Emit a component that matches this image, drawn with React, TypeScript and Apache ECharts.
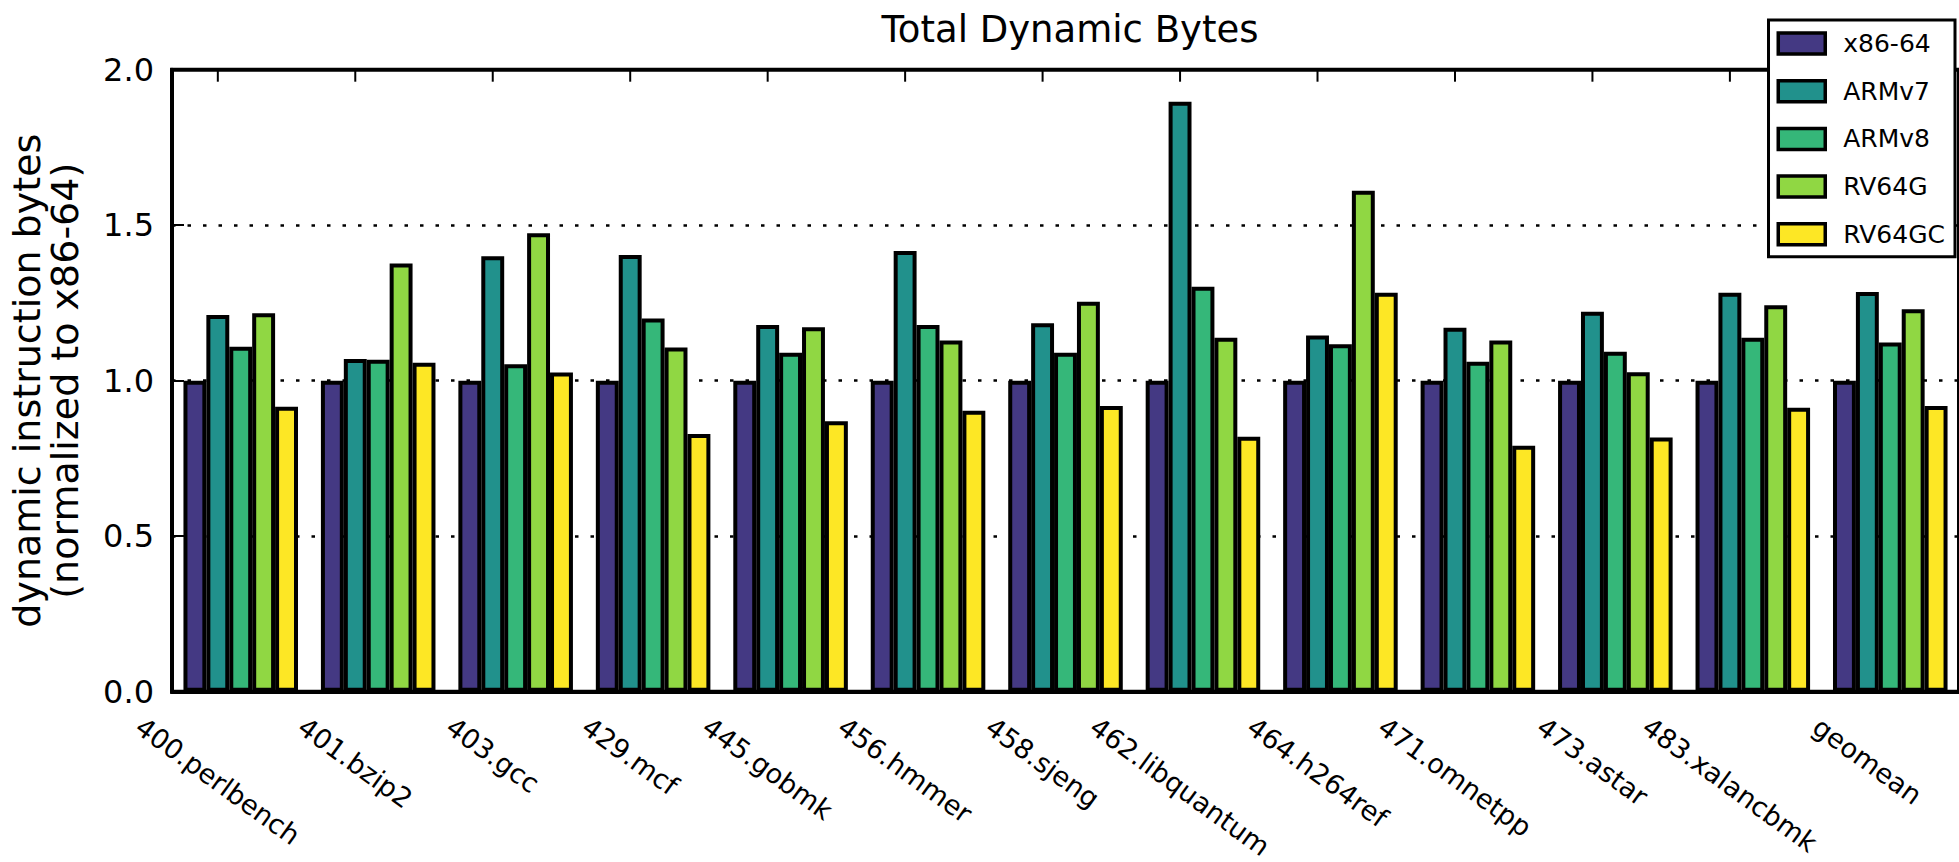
import React, { useEffect, useRef } from "react";
import * as echarts from "echarts";

const categories = [
  "400.perlbench",
  "401.bzip2",
  "403.gcc",
  "429.mcf",
  "445.gobmk",
  "456.hmmer",
  "458.sjeng",
  "462.libquantum",
  "464.h264ref",
  "471.omnetpp",
  "473.astar",
  "483.xalancbmk",
  "geomean",
];
const seriesNames = ["x86-64", "ARMv7", "ARMv8", "RV64G", "RV64GC"];
const x86_64 = [1, 1, 1, 1, 1, 1, 1, 1, 1, 1, 1, 1, 1];
const armv7 = [1.211, 1.07, 1.4, 1.404, 1.179, 1.417, 1.185, 1.897, 1.145, 1.17, 1.222, 1.283, 1.285];
const armv8 = [1.109, 1.067, 1.053, 1.2, 1.09, 1.179, 1.09, 1.302, 1.117, 1.061, 1.093, 1.138, 1.123];
const rv64g = [1.217, 1.377, 1.474, 1.107, 1.172, 1.129, 1.254, 1.138, 1.611, 1.129, 1.027, 1.243, 1.23];
const rv64gc = [0.916, 1.058, 1.026, 0.829, 0.87, 0.903, 0.919, 0.82, 1.283, 0.791, 0.817, 0.913, 0.919];
const yMin = 0;
const yMax = 2.0;
const yStep = 0.5;
const titleText = "Total Dynamic Bytes";
const yName = "dynamic instruction bytes\n(normalized to x86-64)";
const colors = ["#443983", "#21918c", "#35b779", "#90d743", "#fde725"];

const FONT = "'DejaVu Sans', 'Noto Sans', sans-serif";

export default function App() {
  const ref = useRef<HTMLDivElement>(null);
  useEffect(() => {
    if (!ref.current) return;
    const chart = echarts.init(ref.current, undefined, { renderer: "svg" });
    const values = [x86_64, armv7, armv8, rv64g, rv64gc];
    const option: any = {
      animation: false,
      backgroundColor: "#ffffff",
      textStyle: { fontFamily: FONT },
      title: {
        text: titleText,
        left: 1065,
        top: 6,
        textAlign: "center",
        textStyle: { fontFamily: FONT, fontSize: 37, fontWeight: "normal", color: "#000" },
      },
      legend: {
        orient: "vertical",
        right: 4,
        top: 20,
        padding: [11, 10, 10, 8],
        backgroundColor: "#ffffff",
        borderColor: "#000",
        borderWidth: 3,
        borderRadius: 0,
        itemWidth: 47,
        itemHeight: 21,
        itemGap: 22.7,
        icon: "rect",
        itemStyle: { borderColor: "#000", borderWidth: 3.5 },
        textStyle: { fontFamily: FONT, fontSize: 25, color: "#000", lineHeight: 21, padding: [0, 0, 0, 13] },
        data: seriesNames,
        z: 10,
      },
      grid: {
        left: 168.7,
        right: -15.4,
        top: 69.7,
        bottom: 170.3,
        show: true,
        borderColor: "#000",
        borderWidth: 4,
        backgroundColor: "transparent",
        containLabel: false,
      },
      xAxis: {
        type: "category",
        data: categories,
        boundaryGap: true,
        axisLine: { show: true, onZero: false, lineStyle: { color: "#000", width: 4 } },
        axisTick: { show: false },
        axisLabel: { show: false },
        splitLine: { show: false },
      },
      yAxis: {
        type: "value",
        min: yMin,
        max: yMax,
        interval: yStep,
        name: yName,
        nameLocation: "middle",
        nameRotate: 90,
        nameGap: 88,
        nameTextStyle: { fontFamily: FONT, fontSize: 38, lineHeight: 38, color: "#000", align: "center" },
        axisLine: { show: true, onZero: false, lineStyle: { color: "#000", width: 4 } },
        axisTick: { show: true, inside: true, length: 12, lineStyle: { color: "#000", width: 2 } },
        axisLabel: {
          margin: 18,
          fontFamily: FONT,
          fontSize: 32,
          color: "#000",
          formatter: (v: number) => v.toFixed(1),
        },
        splitLine: { show: true, lineStyle: { color: "#000", width: 2.5, type: [3.5, 12] } },
      },
      series: [
        ...seriesNames.map((name, k) => ({
          name,
          type: "bar",
          data: values[k],
          barWidth: "16.667%",
          barGap: "0%",
          itemStyle: { color: colors[k], borderColor: "#000", borderWidth: 4 },
          emphasis: { disabled: true },
        })),
        {
          // matplotlib-style inward ticks on the top spine, at the centre of each group's 2nd bar
          name: "topTicks",
          type: "custom",
          silent: true,
          z: 5,
          data: categories.map((_, i) => [i, yMax]),
          encode: { x: 0, y: 1 },
          renderItem: (params: any, api: any) => {
            const p = api.coord([api.value(0), api.value(1)]);
            const band = api.size([1, 0])[0];
            const x = p[0] - band / 6;
            return {
              type: "line",
              shape: { x1: x, y1: p[1], x2: x, y2: p[1] + 12 },
              style: { stroke: "#000", lineWidth: 2 },
            };
          },
        },
      ],
    };
    chart.setOption(option);

    // category tick labels, rotated, bbox centred on matplotlib-style tick positions
    const fs = 27;
    const theta = (36 * Math.PI) / 180;
    const canvas = document.createElement("canvas");
    const ctx = canvas.getContext("2d");
    if (ctx) ctx.font = `${fs}px 'DejaVu Sans'`;
    const y0 = chart.convertToPixel({ yAxisIndex: 0 }, 0) as number;
    const c0 = chart.convertToPixel({ xAxisIndex: 0 }, 0) as number;
    const c1 = chart.convertToPixel({ xAxisIndex: 0 }, 1) as number;
    const band = c1 - c0;
    const graphics = categories.map((c, i) => {
      const px = (chart.convertToPixel({ xAxisIndex: 0 }, i) as number) - band / 6;
      const W = ctx ? ctx.measureText(c).width : c.length * fs * 0.6;
      const H = fs;
      const bh = W * Math.sin(theta) + H * Math.cos(theta);
      return {
        type: "text",
        x: px,
        y: y0 + 21 + bh / 2,
        rotation: -theta,
        silent: true,
        style: {
          text: c,
          fontFamily: FONT,
          fontSize: fs,
          fill: "#000",
          align: "center",
          verticalAlign: "middle",
        },
      };
    });
    chart.setOption({ graphic: graphics });
    return () => chart.dispose();
  }, []);
  return (
    <div
      ref={ref}
      style={{ position: "fixed", left: 0, top: 0, width: 1959, height: 862, background: "#fff" }}
    />
  );
}
